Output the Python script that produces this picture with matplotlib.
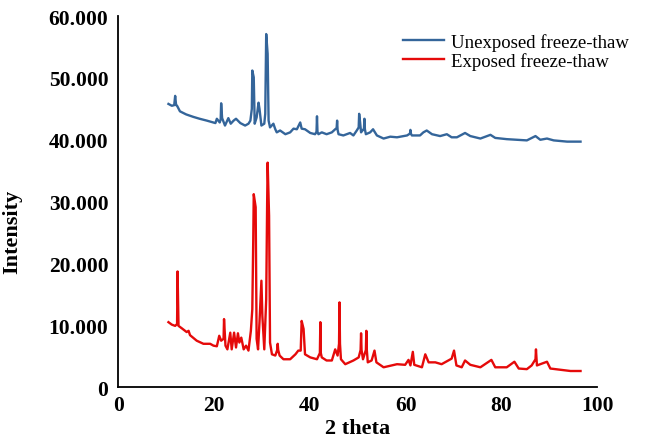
"""
XRD patterns: unexposed vs exposed freeze-thaw samples.
Values read off the original figure (intensity in counts, 2 theta in degrees).
"""
import matplotlib
matplotlib.use("Agg")
import matplotlib.pyplot as plt
import matplotlib as mpl
from matplotlib.ticker import FuncFormatter, MultipleLocator

mpl.rcParams.update({
    "font.family": ["Liberation Serif", "DejaVu Serif"],
    "axes.spines.top": False, "axes.spines.right": False,
    "axes.edgecolor": "#000000", "axes.linewidth": 1.3,
})

# ---- Unexposed freeze-thaw (blue) ----
unexp_2theta = [
    10.5, 11.2, 11.7, 11.9, 12.1, 12.3, 12.9, 14.2, 15.7, 17.0, 18.5, 20.3,
    20.6, 21.2, 21.4, 21.5, 21.7, 21.9, 22.3, 23.0, 23.5, 24.1, 24.6, 25.5,
    26.5, 27.2, 27.6, 27.9, 28.0, 28.3, 28.5, 28.9, 29.3, 29.5, 29.9, 30.5,
    30.7, 30.9, 31.2, 31.4, 31.7, 32.4, 32.8, 33.1, 33.8, 34.9, 35.9, 36.6,
    37.3, 38.0, 38.3, 39.0, 40.1, 41.1, 41.4, 41.5, 41.6, 41.8, 42.5, 43.5,
    44.6, 45.3, 45.6, 45.7, 45.8, 46.0, 47.0, 48.4, 49.1, 49.8, 50.2, 50.3,
    50.5, 50.7, 51.3, 51.4, 51.5, 51.7, 52.6, 53.2, 54.0, 55.4, 56.8, 58.2,
    60.3, 60.9, 61.0, 61.1, 61.3, 62.3, 63.0, 63.7, 64.4, 65.5, 67.2, 68.6,
    69.6, 70.7, 72.4, 73.5, 75.6, 77.7, 78.7, 81.1, 83.2, 85.3, 87.1, 88.1,
    89.5, 90.9, 92.3, 93.7, 96.5,
]
unexp_int = [
    45800, 45500, 45600, 47100, 45600, 45500, 44600, 44100, 43700, 43400, 43100, 42700,
    43400, 42800, 43300, 45900, 43500, 43100, 42300, 43500, 42600, 43100, 43400, 42700,
    42300, 42600, 43100, 45000, 51200, 50100, 42600, 43600, 46000, 45000, 42300, 42600,
    44200, 57100, 53900, 43100, 42000, 42600, 41700, 41200, 41500, 40900, 41200, 41800,
    41700, 42800, 41800, 41700, 41100, 40900, 41300, 43800, 41300, 40900, 41200, 40900,
    41200, 41700, 41900, 43100, 41600, 40900, 40700, 41100, 40700, 41500, 42000, 44200,
    42800, 41200, 41800, 43400, 41700, 40900, 41200, 41700, 40700, 40200, 40500, 40400,
    40700, 41000, 41600, 41000, 40700, 40700, 40700, 41200, 41500, 40900, 40600, 40900,
    40400, 40400, 41100, 40600, 40200, 40800, 40300, 40100, 40000, 39900, 40600, 40000,
    40200, 39900, 39800, 39700, 39700,
]

# ---- Exposed freeze-thaw (red) ----
exp_2theta = [
    10.5, 11.2, 11.9, 12.3, 12.4, 12.6, 13.3, 14.3, 14.7, 15.0, 16.4, 17.8,
    19.2, 19.9, 20.6, 21.1, 21.5, 22.0, 22.1, 22.4, 22.8, 23.4, 23.7, 24.2,
    24.6, 25.0, 25.3, 25.7, 26.2, 26.7, 27.2, 27.7, 28.0, 28.2, 28.3, 28.7,
    28.9, 29.2, 29.5, 29.9, 30.1, 30.5, 30.9, 31.1, 31.2, 31.5, 31.7, 32.1,
    32.8, 33.2, 33.3, 33.4, 33.7, 34.5, 35.9, 37.0, 37.6, 38.1, 38.3, 38.7,
    39.0, 40.1, 41.5, 42.1, 42.2, 42.3, 42.5, 43.5, 44.6, 45.3, 45.8, 46.1,
    46.2, 46.3, 46.5, 47.4, 49.1, 50.2, 50.6, 50.7, 50.8, 51.1, 51.7, 51.8,
    51.9, 52.1, 52.9, 53.5, 53.9, 55.4, 58.2, 59.9, 60.6, 61.0, 61.5, 61.8,
    63.4, 64.1, 64.8, 66.2, 67.5, 68.9, 69.6, 70.1, 70.6, 71.7, 72.4, 73.5,
    75.6, 77.9, 78.7, 81.1, 82.7, 83.6, 85.3, 86.3, 87.1, 87.2, 87.4, 89.5,
    90.2, 92.3, 94.4, 96.5,
]
exp_int = [
    10500, 10100, 9900, 10200, 18700, 9900, 9500, 8900, 9100, 8400, 7500, 7000,
    7000, 6700, 6600, 8300, 7500, 7800, 11000, 6700, 6100, 8800, 6100, 8800,
    6400, 8700, 7200, 8000, 6100, 6700, 5900, 9100, 12600, 24000, 31200, 29100,
    7800, 6100, 10500, 17200, 11500, 6100, 14200, 30000, 36300, 27700, 7200, 5300,
    5100, 6000, 7000, 6000, 5100, 4500, 4500, 5300, 5900, 5900, 10700, 9400,
    5300, 4800, 4500, 5500, 10500, 5500, 4800, 4300, 4300, 6100, 5100, 7000,
    13700, 7000, 4500, 3700, 4300, 4800, 6000, 8700, 6000, 4500, 6000, 9100,
    6000, 4000, 4300, 5900, 4000, 3200, 3700, 3600, 4400, 3500, 5700, 3600,
    3200, 5300, 4000, 4000, 3700, 4300, 4600, 5900, 3500, 3200, 4300, 3600,
    3200, 4400, 3200, 3200, 4100, 3000, 2900, 3500, 4500, 6100, 3500, 4100,
    3000, 2800, 2600, 2600,
]

fig = plt.figure(figsize=(6.6, 4.39), dpi=100)
ax = fig.add_axes([0.179, 0.116, 0.726, 0.845])

ax.plot(unexp_2theta, unexp_int, color="#34659A", linewidth=1.7,
        label="Unexposed freeze-thaw")
ax.plot(exp_2theta, exp_int, color="#E50A0A", linewidth=1.7,
        label="Exposed freeze-thaw")

ax.set_xlim(0, 100)
ax.set_ylim(0, 60000)
ax.xaxis.set_major_locator(MultipleLocator(20))
ax.yaxis.set_major_locator(MultipleLocator(10000))
ax.yaxis.set_major_formatter(FuncFormatter(lambda v, p: f"{v:,.0f}".replace(",", ".")))
ax.tick_params(axis="both", length=0, labelsize=15.5)
ax.tick_params(axis="y", pad=7)
ax.tick_params(axis="x", pad=6)
for lab in ax.get_xticklabels() + ax.get_yticklabels():
    lab.set_fontweight("bold")
# the x-axis zero is set in a smaller sans face in the original
xl = ax.get_xticklabels()
xl[0].set_fontfamily("DejaVu Sans")
xl[0].set_fontsize(10.5)

ax.set_xlabel("2 theta", fontsize=16, fontweight="bold", labelpad=2)
ax.set_ylabel("Intensity", fontsize=16, fontweight="bold")
ax.yaxis.set_label_coords(-0.2, 0.42)

ax.legend(loc="upper right", bbox_to_anchor=(1.09, 0.985), frameon=False,
          fontsize=13.5, handlelength=2.2, handletextpad=0.4,
          labelspacing=0.05, borderaxespad=0.2)

fig.savefig("out.png", dpi=100)
